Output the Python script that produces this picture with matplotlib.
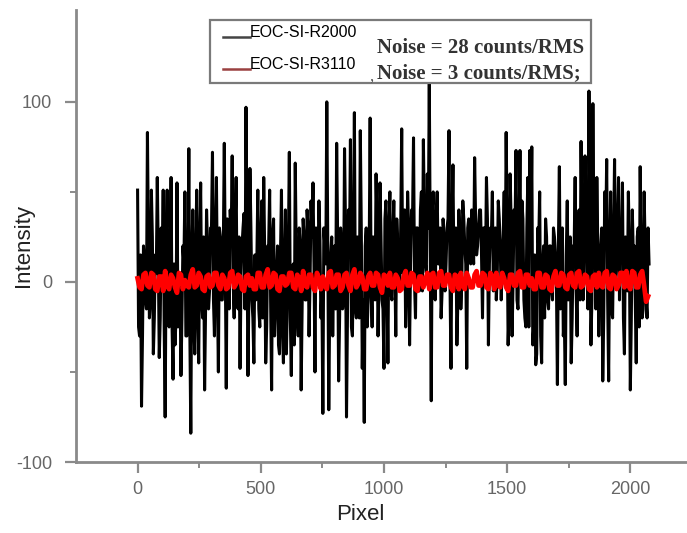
import matplotlib
matplotlib.use("Agg")
import matplotlib.pyplot as plt
from matplotlib.patches import Rectangle
from matplotlib.lines import Line2D
import numpy as np

plt.rcParams["axes.unicode_minus"] = False

# readings of the two traces (counts)
# black trace: spike extremes every 8 pixels, dense core readings in between
STEP_R2000 = 8
R2000_PEAKS = [
    51, -30, -69, 20, -10, 83, -20, 51, -40, 15,
    58, -42, 30, 51, -75, 51, -25, 58, -54, -35,
    55, -10, -52, 20, 50, -30, 74, -84, 40, -40,
    51, -45, 55, -20, -60, 40, -15, 30, 72, -30,
    58, -50, 25, -10, 77, -59, 30, 40, 70, -20,
    58, -15, -48, 20, 38, 97, -52, 63, -10, -45,
    -10, 51, -25, 45, 58, -45, 20, 51, -60, 35,
    -15, 20, -40, 51, -45, 40, -10, 72, -52, 10,
    66, -20, 30, -60, 35, -10, 40, -30, 45, 55,
    -50, 25, 45, -20, -73, 20, 100, -71, 15, -30,
    20, 77, -55, 30, -15, 74, -75, 40, 79, -30,
    94, -20, -15, 84, -48, -78, 30, -10, 91, -25,
    10, 60, -30, 55, -10, -48, 45, -45, 50, -10,
    45, -30, 20, -5, 85, 10, -25, 50, -35, 40,
    80, -20, 30, -5, 50, 79, 10, 60, 111, -66,
    50, -10, 50, 10, -20, 35, -5, 30, 84, -48,
    65, 10, -35, 40, -15, 45, 20, -48, 35, 10,
    25, 69, 15, 30, 40, -20, 30, 58, -35, 30,
    50, 15, -10, 45, 20, 10, 50, 83, -35, 60,
    -30, 40, 73, -15, 73, 45, -10, -25, 58, 73,
    75, -25, -46, 30, 50, -45, 20, 35, -10, 20,
    -5, 30, 15, -57, 64, 10, -30, -57, 45, 10,
    -45, 20, 58, -30, 40, 78, -10, 70, 20, 106,
    -35, 99, 15, 58, -30, 20, -55, 50, 68, -55,
    50, -20, 68, 10, 58, 30, 55, -40, 10, 50,
    -60, 40, 20, -45, 30, 64, -20, 50, -10, 30,
]
R2000_CORE = [
    -25, 15, -30, 10, -15, 20, -10, 25, -20, 5,
    15, -20, 10, -25, 20, -15, 5, -25, 10, -20,
    -25, 5, -20, 10, -30, 0, -25, 10, -20, 15,
    -15, 20, -10, 25, -15, 20, -5, 30, -10, 25,
    -5, 30, -10, 20, 5, 35, -15, 25, 0, 30,
    -10, 25, 5, 30, -15, 20, -5, 30, -20, 15,
    10, -15, 25, -20, 15, -25, 20, -10, 25, -30,
    5, -35, 15, -25, 10, -40, 20, -20, 5, -35,
    15, -30, 20, -15, 25, -10, 30, 0, 25, 10,
    30, 5, 25, -5, 30, 10, 20, -10, 25, 5,
    -15, 25, -20, 20, -10, 30, -20, 15, -25, 20,
    -15, 25, -20, 30, -10, 20, -25, 15, -5, 25,
    -10, 30, 0, 25, -15, 35, 5, 30, -5, 25,
    10, 35, 0, 30, 5, 40, -5, 30, 10, 35,
    0, 30, 10, 40, -5, 35, 5, 30, 15, 40,
    0, 35, 10, 30, -5, 25, 10, 35, 0, 30,
    5, 30, -10, 25, 0, 35, 10, 30, 15, 40,
    10, 35, 20, 40, 15, 30, 5, 35, 10, 25,
    -5, 30, 5, 35, -10, 25, 0, 30, -15, 35,
    0, 30, -10, 25, 5, 35, -20, 30, -25, 20,
    -35, 15, -40, 20, -30, 10, -20, 25, -15, 20,
    -10, 25, 0, 20, -15, 30, -20, 15, -10, 25,
    -20, 20, -5, 30, -10, 25, 0, 20, -15, 30,
    -10, 25, -15, 20, 0, 30, -20, 25, -10, 15,
    -15, 25, 0, 30, -10, 20, -20, 25, -5, 20,
    -20, 15, -10, 25, -25, 10, -15, 20, -20, 10,
]
# red trace: readings every 16 pixels plus the in-between readings
STEP_R3110 = 16
R3110 = [
    2, -4, 5, -3, 4, -5, 3, 6, -4, 2, -6, 4, 1, -3, 7, -2,
    3, -5, 4, -2, 5, -4, 2, -3, 6, -1, 3, -5, 4, 2, -4, 5,
    -3, 7, -2, 4, -5, 3, -1, 5, -4, 2, 6, -3, 4, -5, 2, 3,
    -4, 6, -2, 4, -3, 5, -5, 7, -1, 3, -4, 5, -2, 4, -6, 3,
    5, -3, 2, -4, 6, -2, 4, -5, 3, 1, -4, 5, -3, 6, -2, 4,
    -5, 3, 5, -4, 2, -3, 6, -2, 4, -4, 3, 5, -3, 2, -5, 4,
    -2, 6, -3, 4, 2, -4, 5, -3, 3, -5, 6, -2, 4, -4, 5, -3,
    6, -2, 3, -5, 4, 5, -3, 6, -4, 3, -2, 5, 6, -4, 5, -3, 6, -11,
]
R3110_MID = [
    -3, 4, -2, 5, -4, 3, -5, -2, 4, -3, 5, -4, -2, 4, -3, 5,
    -4, 3, -3, 5, -2, 4, -4, 5, -3, 4, -4, 3, -2, -4, 5, -3,
    4, -3, 5, -4, 3, -2, 5, -3, 4, -5, -2, 4, -3, 5, -4, -2,
    5, -3, 4, -5, 4, -2, 4, -3, 5, -4, 3, -2, 5, -3, 4, -2,
    -3, 4, -5, 3, -2, 5, -4, 3, -3, 5, 4, -3, 5, -2, 4, -3,
    4, -4, -2, 5, -3, 4, -2, 5, -3, 5, -4, -2, 5, -3, 4, -2,
    5, -3, 4, -2, -4, 5, -3, 4, -4, 3, -2, 5, -3, 4, -2, 5,
    -3, 4, -4, 3, -3, -2, 5, -3, 4, -4, 5, -3, -2, 6, -3, 4, -2, -8,
]

X_TICKS = [0, 500, 1000, 1500, 2000]
Y_TICKS = [-100, 0, 100]
LABELS = ["EOC-SI-R2000", "EOC-SI-R3110"]
NOISE_TEXT = ["Noise = 28 counts/RMS", "Noise = 3 counts/RMS;"]

fig = plt.figure(figsize=(6.87, 5.33), dpi=100)
ax = fig.add_axes([0.1106, 0.1332, 0.8894, 0.848])

# interleave peak and core readings of the black trace
y_black = np.column_stack([R2000_PEAKS, R2000_CORE]).ravel()
x_black = np.arange(len(y_black)) * (STEP_R2000 / 2)
y_red = np.column_stack([R3110, R3110_MID]).ravel()
x_red = np.arange(len(y_red)) * (STEP_R3110 / 2)
ax.plot(x_black, y_black, color="#000000", lw=2.2)
ax.plot(x_red, y_red, color="#ff0000", lw=3.4)

ax.set_xlim(-250, 2230)
ax.set_ylim(-100, 151)
for side in ("top", "right"):
    ax.spines[side].set_visible(False)
for side in ("left", "bottom"):
    ax.spines[side].set_color("#8a8a8a")
    ax.spines[side].set_linewidth(2.0)

ax.set_xticks(X_TICKS)
ax.set_xticks(np.arange(250, 2001, 500), minor=True)
ax.set_yticks(Y_TICKS)
ax.set_yticks([-50, 50], minor=True)
ax.tick_params(which="major", length=8, width=1.6, color="#8a8a8a",
               labelsize=13, labelcolor="#666666", pad=9)
ax.tick_params(which="minor", length=4, width=1.4, color="#8a8a8a")
for lab in ax.get_xticklabels() + ax.get_yticklabels():
    lab.set_family("Liberation Sans")
ax.tick_params(axis="x", pad=6)

ax.set_xlabel("Pixel", fontsize=16, family="Liberation Sans", color="#222222")
ax.set_ylabel("Intensity", fontsize=16, family="Liberation Sans", color="#222222")
ax.xaxis.set_label_coords(0.465, -0.092)
ax.yaxis.set_label_coords(-0.068, 0.48)

# legend box drawn by hand, as in the original figure
ax.add_patch(Rectangle((0.219, 0.838), 0.624, 0.14, transform=ax.transAxes,
                       fill=True, facecolor="white", edgecolor="#7a7a7a",
                       lw=1.6, zorder=5))
rows = [0.951, 0.880]
note_rows = [0.916, 0.861]
line_colors = ["#444444", "#9a4040"]
for y, ny, lab, col, note in zip(rows, note_rows, LABELS, line_colors, NOISE_TEXT):
    ax.add_line(Line2D([0.240, 0.285], [y - 0.011, y - 0.011], transform=ax.transAxes,
                       color=col, lw=1.8, zorder=6))
    ax.text(0.285, y, lab, transform=ax.transAxes, fontsize=11.5,
            family="Liberation Sans", va="center", ha="left", zorder=6)
    ax.text(0.493, ny, note, transform=ax.transAxes, fontsize=15,
            family="Liberation Serif", weight="bold", color="#333333",
            va="center", ha="left", zorder=6)
ax.text(0.480, 0.852, ",", transform=ax.transAxes, fontsize=12,
        family="Liberation Serif", color="#555555", va="center", zorder=6)

fig.savefig("out.png", dpi=100)
